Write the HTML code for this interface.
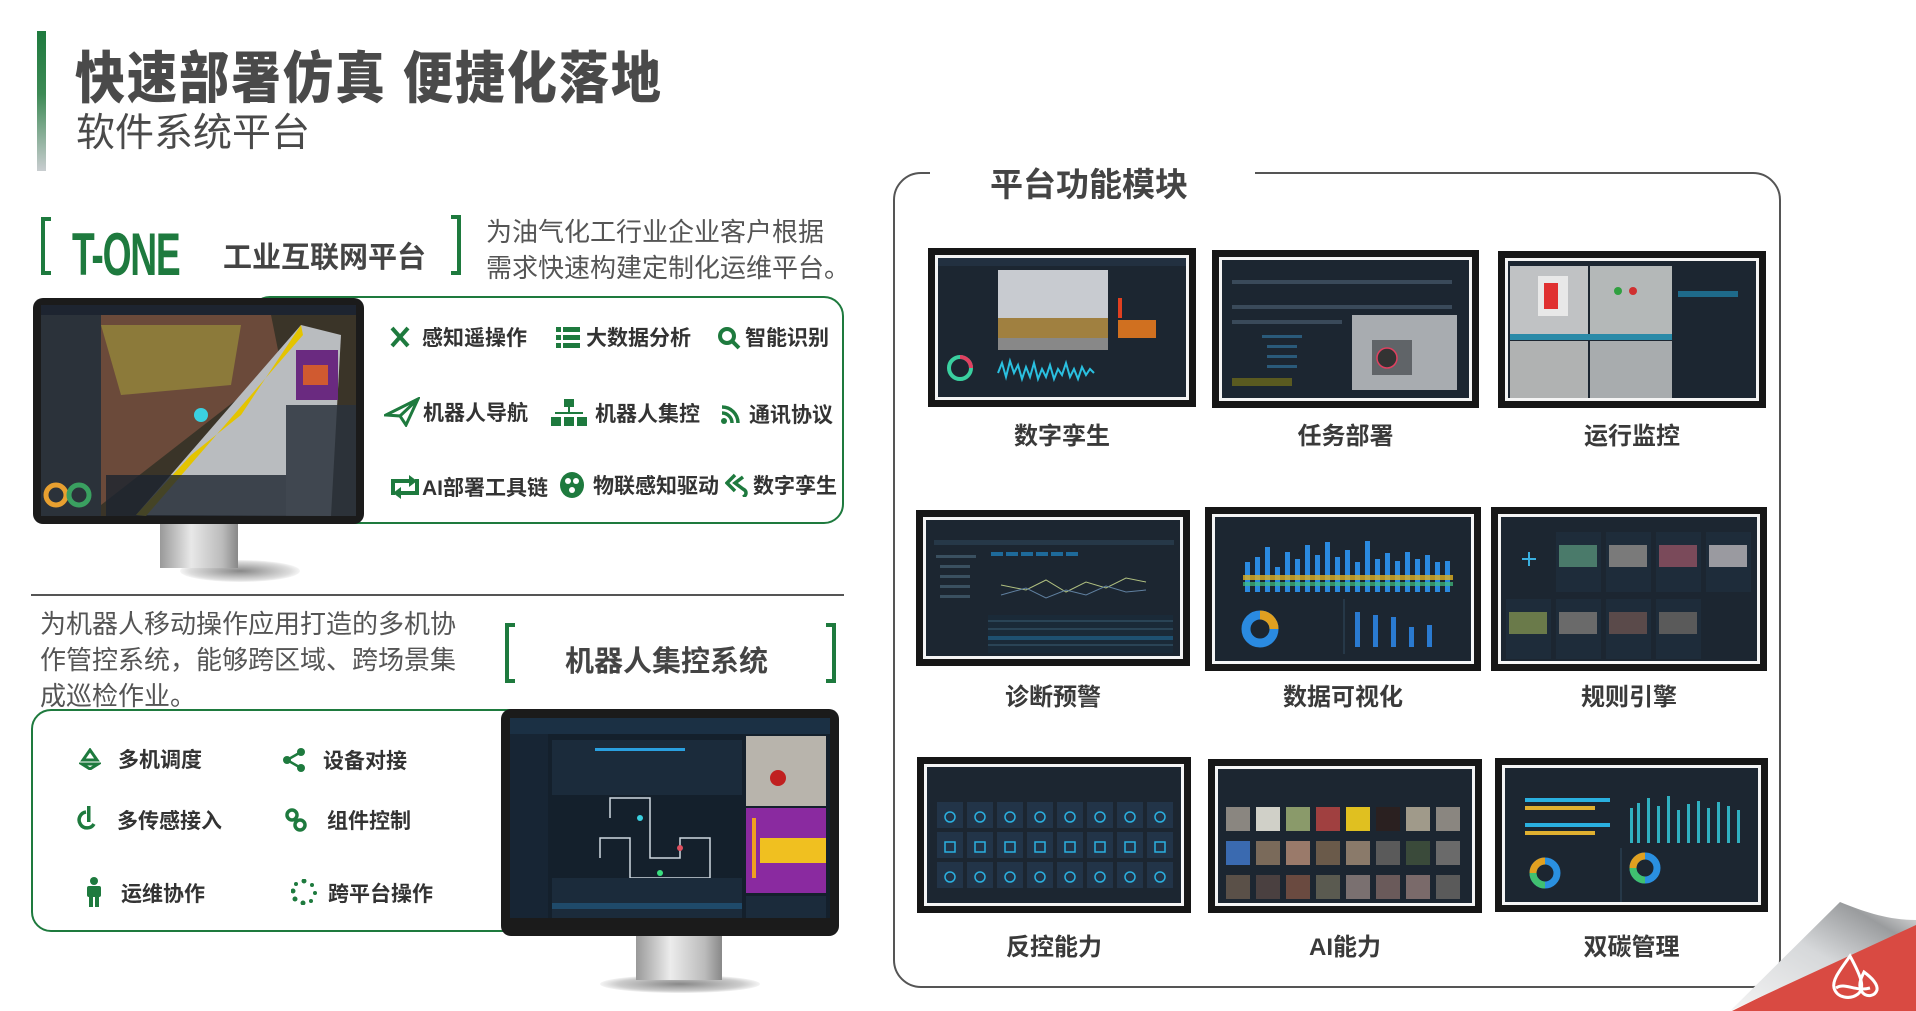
<!DOCTYPE html>
<html><head><meta charset="utf-8">
<style>
*{margin:0;padding:0;box-sizing:border-box}
body{width:1916px;height:1011px;background:#fff;position:relative;overflow:hidden;font-family:"Liberation Sans","Noto Sans CJK SC",sans-serif;color:#333}
.a{position:absolute}
.t{position:absolute;white-space:nowrap;font-weight:bold;color:#3a3a3a}
.tile{position:absolute;background:#161616}
.tile .in{position:absolute;left:7px;top:7px;right:7px;bottom:7px;border:3px solid #f4f4f4;background:#1c2631;overflow:hidden}
.lab{position:absolute;font-size:24px;font-weight:bold;color:#3a3a3a;text-align:center;white-space:nowrap}
.f{position:absolute;font-size:21px;font-weight:bold;color:#333;white-space:nowrap;transform:translateY(-50%)}
.ic{position:absolute;transform:translate(-50%,-50%)}
.br{position:absolute;border:4px solid #1e7a3e}
</style></head><body>

<!-- left header -->
<div class="a" style="left:37px;top:31px;width:9px;height:140px;background:linear-gradient(#1e7a3e 0%,#3d8a55 45%,#c9cdd0 100%)"></div>
<div class="t" style="left:75px;top:34px;font-size:50px;letter-spacing:2px;color:#4a4a4a;font-weight:900;transform:scaleY(1.12);transform-origin:left top">快速部署仿真 便捷化落地</div>
<div class="t" style="left:76px;top:102px;font-size:39px;font-weight:normal;color:#4a4a4a">软件系统平台</div>

<!-- T-ONE row -->
<div class="br" style="left:41px;top:217px;width:10px;height:58px;border-right:none"></div>
<div class="t" style="left:72px;top:220px;font-size:60px;color:#1e7a3e;transform:scaleX(0.62);transform-origin:left top;letter-spacing:-2px;font-family:'Liberation Sans',sans-serif">T-ONE</div>
<div class="t" style="left:223px;top:234px;font-size:29px;color:#444">工业互联网平台</div>
<div class="br" style="left:451px;top:215px;width:10px;height:60px;border-left:none"></div>
<div class="a" style="left:486px;top:214px;font-size:26px;line-height:36px;color:#555;width:420px;white-space:nowrap">为油气化工行业企业客户根据<br>需求快速构建定制化运维平台。</div>

<!-- box 1 -->
<div class="a" style="left:250px;top:296px;width:594px;height:228px;border:2.5px solid #1e7a3e;border-radius:20px"></div>
<!-- monitor 1 -->
<div class="a" style="left:180px;top:560px;width:120px;height:22px;border-radius:50%;background:radial-gradient(#888,#ddd 60%,#fff 75%)"></div>
<div class="a" style="left:160px;top:522px;width:78px;height:46px;background:linear-gradient(90deg,#999,#e8e8e8 40%,#bbb 80%,#888)"></div>
<div class="a" style="left:33px;top:298px;width:331px;height:226px;background:#1b1b1b;border-radius:10px"></div>
<svg class="a" style="left:41px;top:305px" width="315" height="211" viewBox="0 0 315 211">
<rect width="315" height="211" fill="#3a3428"/>
<rect width="315" height="10" fill="#1d2430"/>
<polygon points="60,10 230,10 240,60 60,200" fill="#6b4a3a"/>
<polygon points="95,210 260,20 300,30 290,211" fill="#b9bcbf"/>
<polygon points="95,210 150,150 200,110 260,20 262,30 105,211" fill="#e4c400"/>
<polygon points="60,20 200,20 190,80 80,90" fill="#8c7a3a"/>
<rect x="0" y="10" width="60" height="201" fill="#2a323c" opacity=".9"/>
<rect x="255" y="45" width="42" height="50" fill="#6a2a80"/>
<rect x="262" y="60" width="25" height="20" fill="#d05a30"/>
<rect x="245" y="100" width="70" height="111" fill="#2a323c" opacity=".85"/>
<circle cx="15" cy="190" r="10" fill="none" stroke="#e8a030" stroke-width="5"/>
<circle cx="38" cy="190" r="10" fill="none" stroke="#3aa060" stroke-width="5"/>
<rect x="65" y="170" width="180" height="41" fill="#1d2430" opacity=".8"/>
<circle cx="160" cy="110" r="7" fill="#3ad0e0"/>
</svg>
<!-- features 1 -->
<svg class="ic" style="left:400px;top:337px" width="22" height="24"><path d="M3 3 L11 12 L3 21 M19 3 L11 12 L19 21" stroke="#1e7a3e" stroke-width="4" fill="none"/></svg>
<div class="f" style="left:422px;top:337px">感知遥操作</div>
<svg class="ic" style="left:568px;top:337px" width="24" height="24"><g fill="#1e7a3e"><rect x="0" y="2" width="5" height="5"/><rect x="0" y="10" width="5" height="5"/><rect x="0" y="18" width="5" height="5"/><rect x="7" y="2" width="17" height="5"/><rect x="7" y="10" width="17" height="5"/><rect x="7" y="18" width="17" height="5"/></g></svg>
<div class="f" style="left:586px;top:337px">大数据分析</div>
<svg class="ic" style="left:729px;top:338px" width="24" height="24"><circle cx="10" cy="10" r="7" stroke="#1e7a3e" stroke-width="4" fill="none"/><path d="M15 15 L22 22" stroke="#1e7a3e" stroke-width="4"/></svg>
<div class="f" style="left:745px;top:337px">智能识别</div>

<svg class="ic" style="left:402px;top:412px" width="36" height="30"><path d="M2 18 L34 2 L22 28 L16 19 Z M16 19 L34 2" stroke="#1e7a3e" stroke-width="3" fill="none"/></svg>
<div class="f" style="left:423px;top:412px">机器人导航</div>
<svg class="ic" style="left:569px;top:413px" width="36" height="28"><g fill="#1e7a3e"><rect x="13" y="0" width="10" height="8"/><rect x="17" y="8" width="2" height="6"/><rect x="4" y="13" width="28" height="2"/><rect x="0" y="18" width="10" height="9"/><rect x="13" y="18" width="10" height="9"/><rect x="26" y="18" width="10" height="9"/></g></svg>
<div class="f" style="left:595px;top:413px">机器人集控</div>
<svg class="ic" style="left:731px;top:414px" width="22" height="22"><g fill="none" stroke="#1e7a3e" stroke-width="3.5"><path d="M2 4 A16 16 0 0 1 18 20"/><path d="M2 10 A10 10 0 0 1 12 20"/></g><circle cx="4" cy="18" r="3" fill="#1e7a3e"/></svg>
<div class="f" style="left:749px;top:414px">通讯协议</div>

<svg class="ic" style="left:405px;top:487px" width="32" height="24"><g fill="none" stroke="#1e7a3e" stroke-width="4"><path d="M4 20 L4 6 L24 6"/><path d="M28 4 L28 18 L8 18"/></g><path d="M20 0 L28 6 L20 12Z M12 12 L4 18 L12 24Z" fill="#1e7a3e"/></svg>
<div class="f" style="left:422px;top:487px">AI部署工具链</div>
<svg class="ic" style="left:572px;top:485px" width="26" height="28"><ellipse cx="13" cy="14" rx="12" ry="13" fill="#1e7a3e"/><circle cx="9" cy="10" r="3" fill="#fff"/><circle cx="17" cy="10" r="3" fill="#fff"/><circle cx="13" cy="19" r="3" fill="#fff"/></svg>
<div class="f" style="left:593px;top:485px">物联感知驱动</div>
<svg class="ic" style="left:737px;top:485px" width="24" height="24"><path d="M10 2 L2 10 L10 18 M18 4 L10 10 L18 16 C22 18 22 22 18 24" stroke="#1e7a3e" stroke-width="3.5" fill="none"/></svg>
<div class="f" style="left:753px;top:485px">数字孪生</div>

<!-- separator -->
<div class="a" style="left:31px;top:594px;width:813px;height:2px;background:#555"></div>

<div class="a" style="left:40px;top:606px;font-size:26px;line-height:36px;color:#555;width:440px;white-space:nowrap">为机器人移动操作应用打造的多机协<br>作管控系统，能够跨区域、跨场景集<br>成巡检作业。</div>
<div class="br" style="left:505px;top:623px;width:10px;height:60px;border-right:none"></div>
<div class="t" style="left:565px;top:638px;font-size:29px;color:#444">机器人集控系统</div>
<div class="br" style="left:826px;top:623px;width:10px;height:60px;border-left:none"></div>

<!-- box 2 -->
<div class="a" style="left:31px;top:709px;width:520px;height:223px;border:2.5px solid #1e7a3e;border-radius:20px"></div>
<!-- monitor 2 -->
<div class="a" style="left:600px;top:975px;width:160px;height:18px;border-radius:50%;background:radial-gradient(#888,#ccc 55%,#fff 75%)"></div>
<div class="a" style="left:636px;top:934px;width:86px;height:46px;background:linear-gradient(90deg,#999,#ececec 40%,#bbb 80%,#888)"></div>
<div class="a" style="left:501px;top:709px;width:338px;height:227px;background:#1b1b1b;border-radius:10px"></div>
<svg class="a" style="left:510px;top:718px" width="320" height="200" viewBox="0 0 320 200">
<rect width="320" height="200" fill="#14202c"/>
<rect width="320" height="16" fill="#1b3044"/>
<rect x="0" y="16" width="38" height="184" fill="#172534"/>
<rect x="42" y="22" width="190" height="55" fill="#1b2b3b"/>
<rect x="85" y="30" width="90" height="3" fill="#2aa0e0"/>
<rect x="236" y="18" width="80" height="70" fill="#b8b4ac"/>
<circle cx="268" cy="60" r="8" fill="#c02020"/>
<rect x="236" y="90" width="80" height="85" fill="#8a2aa0"/>
<rect x="250" y="120" width="66" height="25" fill="#f0c020"/>
<rect x="242" y="100" width="4" height="60" fill="#f0a020"/>
<path d="M100 100 L100 80 L140 80 L140 140 L170 140 L170 120 L200 120 L200 160 L120 160 L120 120 L90 120 L90 140" stroke="#cfd8e0" stroke-width="1.5" fill="none"/>
<circle cx="130" cy="100" r="3" fill="#3ad0e0"/><circle cx="170" cy="130" r="3" fill="#e05060"/><circle cx="150" cy="155" r="3" fill="#3ae080"/>
<rect x="42" y="160" width="190" height="40" fill="#1b2b3b"/>
<rect x="42" y="185" width="190" height="6" fill="#1f4a6a"/>
<rect x="236" y="178" width="80" height="22" fill="#1b2b3b"/>
</svg>
<!-- features 2 -->
<svg class="ic" style="left:90px;top:759px" width="22" height="22"><g fill="none" stroke="#1e7a3e" stroke-width="3"><path d="M11 2 L18 12 L4 12 Z"/><path d="M3 16 L19 16 L11 21Z"/></g></svg>
<div class="f" style="left:118px;top:759px">多机调度</div>
<svg class="ic" style="left:294px;top:760px" width="24" height="24"><g fill="#1e7a3e"><circle cx="19" cy="4" r="4"/><circle cx="5" cy="12" r="4"/><circle cx="19" cy="20" r="4"/></g><path d="M19 4 L5 12 L19 20" stroke="#1e7a3e" stroke-width="2.5" fill="none"/></svg>
<div class="f" style="left:323px;top:760px">设备对接</div>
<svg class="ic" style="left:88px;top:818px" width="22" height="24"><path d="M9 6 A8 8 0 1 0 17 18" stroke="#1e7a3e" stroke-width="3.5" fill="none"/><rect x="10" y="0" width="3.5" height="16" fill="#1e7a3e"/></svg>
<div class="f" style="left:117px;top:820px">多传感接入</div>
<svg class="ic" style="left:296px;top:820px" width="24" height="26"><g fill="none" stroke="#1e7a3e" stroke-width="3.5"><circle cx="8" cy="8" r="5"/><circle cx="16" cy="18" r="5"/></g></svg>
<div class="f" style="left:327px;top:820px">组件控制</div>
<svg class="ic" style="left:94px;top:892px" width="20" height="30"><g fill="#1e7a3e"><circle cx="10" cy="4" r="4"/><rect x="3" y="9" width="14" height="11" rx="2"/><rect x="5" y="18" width="4" height="12"/><rect x="11" y="18" width="4" height="12"/></g></svg>
<div class="f" style="left:121px;top:893px">运维协作</div>
<svg class="ic" style="left:304px;top:892px" width="26" height="26"><g fill="#1e7a3e"><circle cx="13" cy="2" r="2.5"/><circle cx="21" cy="6" r="2"/><circle cx="24" cy="14" r="2"/><circle cx="20" cy="22" r="2"/><circle cx="12" cy="24" r="2.5"/><circle cx="4" cy="20" r="2.5"/><circle cx="2" cy="12" r="2.5"/><circle cx="5" cy="5" r="2"/></g></svg>
<div class="f" style="left:328px;top:893px">跨平台操作</div>

<!-- right panel -->
<div class="a" style="left:893px;top:172px;width:888px;height:816px;border:2px solid #555;border-radius:28px"></div>
<div class="a" style="left:930px;top:162px;width:325px;height:20px;background:#fff"></div>
<div class="t" style="left:990px;top:158px;font-size:33px;color:#444">平台功能模块</div>

<!-- row1 -->
<div class="tile" style="left:928px;top:248px;width:268px;height:159px"><div class="in">
<svg width="250" height="141" viewBox="0 0 250 141"><rect width="250" height="8" fill="#223040"/><rect x="60" y="12" width="110" height="80" fill="#c8cbd0"/><rect x="60" y="60" width="110" height="20" fill="#a08040"/><rect x="60" y="80" width="110" height="12" fill="#888"/><rect x="180" y="62" width="38" height="18" fill="#d07020"/><rect x="180" y="40" width="4" height="20" fill="#e04020"/><circle cx="22" cy="110" r="11" fill="none" stroke="#3ad0a0" stroke-width="4"/><path d="M22 99 A11 11 0 0 1 33 110" stroke="#e04060" stroke-width="4" fill="none"/><path d="M60 115 l4 -10 l4 14 l4 -16 l4 12 l4 -8 l4 14 l4 -12 l4 10 l4 -14 l4 16 l4 -10 l4 8 l4 -12 l4 14 l4 -10 l4 6 l4 -12 l4 14 l4 -8 l4 10 l4 -12 l4 8 l4 -6 l4 4" stroke="#2ac0e0" fill="none" stroke-width="2"/></svg></div></div>
<div class="tile" style="left:1212px;top:250px;width:267px;height:158px"><div class="in">
<svg width="249" height="140" viewBox="0 0 249 140"><rect x="130" y="55" width="105" height="75" fill="#a8acb0"/><rect x="150" y="80" width="40" height="35" fill="#606468"/><circle cx="165" cy="98" r="10" fill="#333" stroke="#e04060" stroke-width="1.5"/><g fill="#3a4a5a"><rect x="10" y="20" width="220" height="4"/><rect x="10" y="45" width="220" height="4"/><rect x="10" y="60" width="110" height="4"/></g><g fill="#2a5a7a"><rect x="40" y="75" width="40" height="3"/><rect x="45" y="85" width="30" height="3"/><rect x="45" y="95" width="30" height="3"/><rect x="45" y="105" width="30" height="3"/></g><rect x="10" y="118" width="60" height="8" fill="#5a5a20"/></svg></div></div>
<div class="tile" style="left:1498px;top:251px;width:268px;height:157px"><div class="in">
<svg width="250" height="139" viewBox="0 0 250 139"><rect x="2" y="5" width="78" height="68" fill="#c0c2c4"/><rect x="82" y="5" width="82" height="68" fill="#b4b8b8"/><rect x="2" y="80" width="78" height="58" fill="#b0b2b2"/><rect x="82" y="80" width="82" height="58" fill="#a8acae"/><rect x="30" y="15" width="30" height="40" fill="#e8e8e8"/><rect x="36" y="22" width="14" height="26" fill="#e03030"/><rect x="2" y="73" width="162" height="6" fill="#2a8aa8"/><circle cx="110" cy="30" r="4" fill="#30a040"/><circle cx="125" cy="30" r="4" fill="#d03030"/><rect x="168" y="5" width="80" height="130" fill="#1c2631"/><rect x="170" y="30" width="60" height="6" fill="#1e6a8a"/></svg></div></div>
<div class="lab" style="left:928px;top:416px;width:268px">数字孪生</div>
<div class="lab" style="left:1212px;top:416px;width:267px">任务部署</div>
<div class="lab" style="left:1498px;top:416px;width:268px">运行监控</div>

<!-- row2 -->
<div class="tile" style="left:916px;top:510px;width:274px;height:156px"><div class="in">
<svg width="256" height="138" viewBox="0 0 256 138"><rect x="8" y="20" width="240" height="5" fill="#263848"/><g fill="#1e6a9a"><rect x="65" y="32" width="12" height="4"/><rect x="80" y="32" width="12" height="4"/><rect x="95" y="32" width="12" height="4"/><rect x="110" y="32" width="12" height="4"/><rect x="125" y="32" width="12" height="4"/><rect x="140" y="32" width="12" height="4"/></g><path d="M75 65 L100 70 L120 60 L140 72 L160 62 L180 68 L200 58 L220 62" stroke="#b0c080" fill="none"/><path d="M75 75 L100 68 L120 78 L140 70 L160 75 L180 66 L200 72 L220 70" stroke="#6080a0" fill="none"/><rect x="62" y="95" width="185" height="38" fill="#1a2a38"/><g fill="#2a4456"><rect x="62" y="100" width="185" height="2"/><rect x="62" y="108" width="185" height="2"/><rect x="62" y="116" width="185" height="4" fill="#1e5070"/><rect x="62" y="124" width="185" height="2"/></g><g fill="#3a5060"><rect x="10" y="35" width="40" height="3"/><rect x="14" y="45" width="30" height="3"/><rect x="14" y="55" width="30" height="3"/><rect x="14" y="65" width="30" height="3"/><rect x="14" y="75" width="30" height="3"/></g></svg></div></div>
<div class="tile" style="left:1205px;top:507px;width:276px;height:164px"><div class="in">
<svg width="258" height="146" viewBox="0 0 258 146"><g><rect x="30" y="45" width="5" height="30" fill="#2a8ae0"/><rect x="40" y="40" width="5" height="35" fill="#2a8ae0"/><rect x="50" y="30" width="5" height="45" fill="#2a8ae0"/><rect x="60" y="50" width="5" height="25" fill="#2a8ae0"/><rect x="70" y="35" width="5" height="40" fill="#2a8ae0"/><rect x="80" y="42" width="5" height="33" fill="#2a8ae0"/><rect x="90" y="28" width="5" height="47" fill="#2a8ae0"/><rect x="100" y="38" width="5" height="37" fill="#2a8ae0"/><rect x="110" y="25" width="5" height="50" fill="#2a8ae0"/><rect x="120" y="40" width="5" height="35" fill="#2a8ae0"/><rect x="130" y="33" width="5" height="42" fill="#2a8ae0"/><rect x="140" y="45" width="5" height="30" fill="#2a8ae0"/><rect x="150" y="24" width="5" height="51" fill="#2a8ae0"/><rect x="160" y="42" width="5" height="33" fill="#2a8ae0"/><rect x="170" y="36" width="5" height="39" fill="#2a8ae0"/><rect x="180" y="44" width="5" height="31" fill="#2a8ae0"/><rect x="190" y="35" width="5" height="40" fill="#2a8ae0"/><rect x="200" y="42" width="5" height="33" fill="#2a8ae0"/><rect x="210" y="38" width="5" height="37" fill="#2a8ae0"/><rect x="220" y="45" width="5" height="30" fill="#2a8ae0"/><rect x="230" y="44" width="5" height="31" fill="#2a8ae0"/></g><rect x="28" y="58" width="210" height="5" fill="#e0b020" opacity=".8"/><rect x="28" y="65" width="210" height="4" fill="#40c080" opacity=".7"/><circle cx="45" cy="112" r="14" fill="none" stroke="#2a8ae0" stroke-width="9"/><path d="M45 98 A14 14 0 0 1 59 112" stroke="#e0a020" stroke-width="9" fill="none"/><g fill="#2a7ad0"><rect x="140" y="95" width="5" height="35"/><rect x="158" y="98" width="5" height="32"/><rect x="176" y="100" width="5" height="30"/><rect x="194" y="110" width="5" height="20"/><rect x="212" y="108" width="5" height="22"/></g><rect x="128" y="82" width="2" height="55" fill="#263848"/></svg></div></div>
<div class="tile" style="left:1491px;top:507px;width:276px;height:164px"><div class="in">
<svg width="258" height="146" viewBox="0 0 258 146"><path d="M28 35 v14 M21 42 h14" stroke="#3ab0e0" stroke-width="2"/><g fill="#1e2c3a"><rect x="55" y="15" width="45" height="60"/><rect x="105" y="15" width="45" height="60"/><rect x="155" y="15" width="45" height="60"/><rect x="205" y="15" width="45" height="60"/><rect x="5" y="82" width="45" height="60"/><rect x="55" y="82" width="45" height="60"/><rect x="105" y="82" width="45" height="60"/><rect x="155" y="82" width="45" height="60"/></g><g><rect x="58" y="28" width="38" height="22" fill="#4a7a6a"/><rect x="108" y="28" width="38" height="22" fill="#7a7a7a"/><rect x="158" y="28" width="38" height="22" fill="#7a4a5a"/><rect x="208" y="28" width="38" height="22" fill="#9a9aa0"/><rect x="8" y="95" width="38" height="22" fill="#6a7a4a"/><rect x="58" y="95" width="38" height="22" fill="#6a6a6a"/><rect x="108" y="95" width="38" height="22" fill="#5a4a4a"/><rect x="158" y="95" width="38" height="22" fill="#5a5a5a"/></g></svg></div></div>
<div class="lab" style="left:916px;top:677px;width:274px">诊断预警</div>
<div class="lab" style="left:1205px;top:677px;width:276px">数据可视化</div>
<div class="lab" style="left:1491px;top:677px;width:276px">规则引擎</div>

<!-- row3 -->
<div class="tile" style="left:917px;top:757px;width:274px;height:156px"><div class="in">
<svg width="256" height="138" viewBox="0 0 256 138"><g fill="#223448"><rect x="10" y="35" width="26" height="26"/><rect x="40" y="35" width="26" height="26"/><rect x="70" y="35" width="26" height="26"/><rect x="100" y="35" width="26" height="26"/><rect x="130" y="35" width="26" height="26"/><rect x="160" y="35" width="26" height="26"/><rect x="190" y="35" width="26" height="26"/><rect x="220" y="35" width="26" height="26"/><rect x="10" y="65" width="26" height="26"/><rect x="40" y="65" width="26" height="26"/><rect x="70" y="65" width="26" height="26"/><rect x="100" y="65" width="26" height="26"/><rect x="130" y="65" width="26" height="26"/><rect x="160" y="65" width="26" height="26"/><rect x="190" y="65" width="26" height="26"/><rect x="220" y="65" width="26" height="26"/><rect x="10" y="95" width="26" height="26"/><rect x="40" y="95" width="26" height="26"/><rect x="70" y="95" width="26" height="26"/><rect x="100" y="95" width="26" height="26"/><rect x="130" y="95" width="26" height="26"/><rect x="160" y="95" width="26" height="26"/><rect x="190" y="95" width="26" height="26"/><rect x="220" y="95" width="26" height="26"/></g><g fill="none" stroke="#2ab0e0" stroke-width="1.5"><circle cx="23" cy="50" r="5"/><circle cx="53" cy="50" r="5"/><circle cx="83" cy="50" r="5"/><circle cx="113" cy="50" r="5"/><circle cx="143" cy="50" r="5"/><circle cx="173" cy="50" r="5"/><circle cx="203" cy="50" r="5"/><circle cx="233" cy="50" r="5"/><rect x="18" y="75" width="10" height="10"/><rect x="48" y="75" width="10" height="10"/><rect x="78" y="75" width="10" height="10"/><rect x="108" y="75" width="10" height="10"/><rect x="138" y="75" width="10" height="10"/><rect x="168" y="75" width="10" height="10"/><rect x="198" y="75" width="10" height="10"/><rect x="228" y="75" width="10" height="10"/><circle cx="23" cy="110" r="5"/><circle cx="53" cy="110" r="5"/><circle cx="83" cy="110" r="5"/><circle cx="113" cy="110" r="5"/><circle cx="143" cy="110" r="5"/><circle cx="173" cy="110" r="5"/><circle cx="203" cy="110" r="5"/><circle cx="233" cy="110" r="5"/></g></svg></div></div>
<div class="tile" style="left:1208px;top:759px;width:274px;height:154px"><div class="in">
<svg width="256" height="136" viewBox="0 0 256 136"><g fill="#8a8680"><rect x="8" y="38" width="24" height="24"/><rect x="38" y="38" width="24" height="24" fill="#d0d0c8"/><rect x="68" y="38" width="24" height="24" fill="#8a9a6a"/><rect x="98" y="38" width="24" height="24" fill="#a04040"/><rect x="128" y="38" width="24" height="24" fill="#e0c020"/><rect x="158" y="38" width="24" height="24" fill="#2a2020"/><rect x="188" y="38" width="24" height="24" fill="#a09a8a"/><rect x="218" y="38" width="24" height="24"/><rect x="8" y="72" width="24" height="24" fill="#3a6ab0"/><rect x="38" y="72" width="24" height="24" fill="#7a6a5a"/><rect x="68" y="72" width="24" height="24" fill="#9a7a6a"/><rect x="98" y="72" width="24" height="24" fill="#6a5a4a"/><rect x="128" y="72" width="24" height="24" fill="#8a7a6a"/><rect x="158" y="72" width="24" height="24" fill="#5a5a5a"/><rect x="188" y="72" width="24" height="24" fill="#3a4a3a"/><rect x="218" y="72" width="24" height="24" fill="#6a6a6a"/><rect x="8" y="106" width="24" height="24" fill="#5a5048"/><rect x="38" y="106" width="24" height="24" fill="#4a4040"/><rect x="68" y="106" width="24" height="24" fill="#6a4a40"/><rect x="98" y="106" width="24" height="24" fill="#5a5a50"/><rect x="128" y="106" width="24" height="24" fill="#7a7070"/><rect x="158" y="106" width="24" height="24" fill="#6a5a5a"/><rect x="188" y="106" width="24" height="24" fill="#7a6a6a"/><rect x="218" y="106" width="24" height="24" fill="#5a5a5a"/></g></svg></div></div>
<div class="tile" style="left:1495px;top:758px;width:273px;height:154px"><div class="in">
<svg width="255" height="136" viewBox="0 0 255 136"><rect x="20" y="30" width="85" height="4" fill="#2ab0e0"/><rect x="20" y="38" width="70" height="4" fill="#e0b030"/><rect x="20" y="55" width="85" height="4" fill="#2ab0e0"/><rect x="20" y="63" width="70" height="4" fill="#e0b030"/><g fill="#30b0c0"><rect x="125" y="40" width="3" height="35"/><rect x="132" y="35" width="3" height="40"/><rect x="142" y="30" width="3" height="45"/><rect x="152" y="38" width="3" height="37"/><rect x="162" y="28" width="3" height="47"/><rect x="172" y="42" width="3" height="33"/><rect x="182" y="36" width="3" height="39"/><rect x="192" y="33" width="3" height="42"/><rect x="202" y="40" width="3" height="35"/><rect x="212" y="34" width="3" height="41"/><rect x="222" y="38" width="3" height="37"/><rect x="232" y="42" width="3" height="33"/></g><circle cx="40" cy="105" r="12" fill="none" stroke="#2a90e0" stroke-width="7"/><path d="M28 105 A12 12 0 0 1 40 93" stroke="#e0a020" stroke-width="7" fill="none"/><path d="M40 117 A12 12 0 0 1 28 105" stroke="#40c070" stroke-width="7" fill="none"/><circle cx="140" cy="100" r="12" fill="none" stroke="#2a90e0" stroke-width="7"/><path d="M128 100 A12 12 0 0 1 140 88" stroke="#e0a020" stroke-width="7" fill="none"/><path d="M140 112 A12 12 0 0 1 128 100" stroke="#40c070" stroke-width="7" fill="none"/><rect x="115" y="80" width="2" height="55" fill="#263848"/></svg></div></div>
<div class="lab" style="left:917px;top:927px;width:274px">反控能力</div>
<div class="lab" style="left:1208px;top:927px;width:274px">AI能力</div>
<div class="lab" style="left:1495px;top:927px;width:273px">双碳管理</div>

<!-- page curl -->
<svg class="a" style="left:1700px;top:880px" width="216" height="131" viewBox="0 0 216 131">
<defs><linearGradient id="g" x1="0" y1="1" x2="1" y2="0"><stop offset="0" stop-color="#f4f4f4"/><stop offset=".5" stop-color="#d6d8da"/><stop offset=".8" stop-color="#9a9c9e"/><stop offset="1" stop-color="#ececec"/></linearGradient></defs>
<polygon points="32,131 216,40 216,131" fill="#d94a42"/>
<path d="M30 131 L140 22 C160 30 185 40 216 40 L216 45 Z" fill="url(#g)"/>
<g fill="none" stroke="#fff" stroke-width="3"><path d="M150 76 C140 90 132 100 134 108 C137 118 150 120 158 114 C165 108 162 98 150 76Z"/><path d="M164 92 C160 100 158 106 162 112 C167 118 175 116 177 110 C178 104 172 98 164 92Z"/><path d="M136 108 C145 102 155 112 170 108"/></g>
</svg>
</body></html>
